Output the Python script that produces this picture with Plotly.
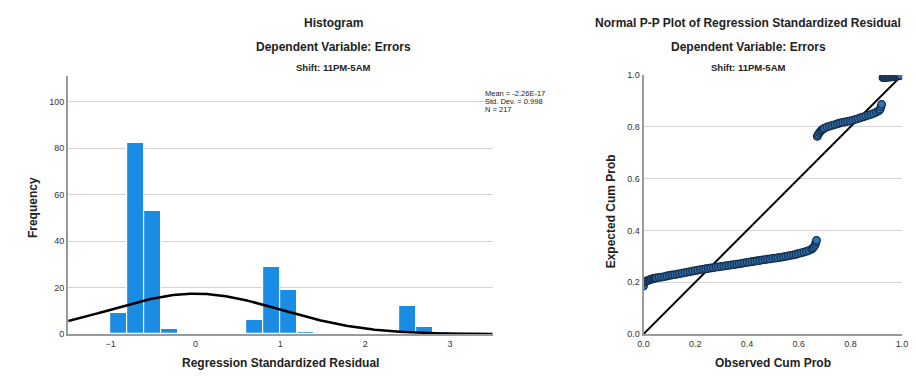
import numpy as np
import plotly.graph_objects as go

# ---------------- data ----------------
bin_left = [-1.0, -0.8, -0.6, -0.4, 0.6, 0.8, 1.0, 1.2, 2.4, 2.6, 2.8]
bin_counts = [9, 82, 53, 2, 6, 29, 19, 1, 12, 3, 1]
bin_width = 0.2
res_mean = -2.26e-17
res_sd = 0.998
res_n = 217
stats_lines = ["Mean = -2.26E-17", "Std. Dev. = 0.998", "N = 217"]

hist_xticks = [-1, 0, 1, 2, 3]
hist_yticks = [0, 20, 40, 60, 80, 100]

pp_observed = [0.000, 0.005, 0.01, 0.015, 0.02, 0.025, 0.03, 0.035, 0.04, 0.045, 0.05, 0.06, 0.07, 0.08, 0.09,
               0.10, 0.11, 0.12, 0.13, 0.14, 0.15, 0.16, 0.17, 0.18, 0.19,
               0.20, 0.21, 0.22, 0.23, 0.24, 0.25, 0.26, 0.27, 0.28, 0.29,
               0.30, 0.31, 0.32, 0.33, 0.34, 0.35, 0.36, 0.37, 0.38, 0.39,
               0.40, 0.41, 0.42, 0.43, 0.44, 0.45, 0.46, 0.47, 0.48, 0.49,
               0.50, 0.51, 0.52, 0.53, 0.54, 0.55, 0.56, 0.57, 0.58, 0.59,
               0.60, 0.61, 0.62, 0.63, 0.64, 0.65, 0.655, 0.66, 0.664, 0.667, 0.669,
               0.672, 0.675, 0.68, 0.685, 0.69, 0.695, 0.70, 0.71, 0.72, 0.73, 0.74, 0.75,
               0.76, 0.77, 0.78, 0.79, 0.80, 0.81, 0.82, 0.83, 0.84, 0.85,
               0.86, 0.87, 0.88, 0.89, 0.90, 0.91, 0.915, 0.918, 0.921,
               0.926, 0.93, 0.935, 0.94, 0.945, 0.95, 0.955, 0.96, 0.965, 0.97, 0.975, 0.98, 0.985, 0.99, 0.995]
pp_expected = [0.185, 0.200, 0.204, 0.206, 0.208, 0.210, 0.212, 0.213, 0.215, 0.216, 0.217, 0.219, 0.220, 0.222, 0.224,
               0.226, 0.228, 0.229, 0.231, 0.233, 0.235, 0.237, 0.239, 0.241, 0.243,
               0.245, 0.247, 0.249, 0.250, 0.252, 0.253, 0.255, 0.256, 0.258, 0.259,
               0.261, 0.262, 0.264, 0.265, 0.267, 0.268, 0.270, 0.271, 0.273, 0.275,
               0.277, 0.278, 0.280, 0.281, 0.283, 0.284, 0.286, 0.287, 0.289, 0.290,
               0.292, 0.293, 0.295, 0.296, 0.298, 0.300, 0.302, 0.304, 0.306, 0.308,
               0.311, 0.313, 0.316, 0.319, 0.323, 0.328, 0.332, 0.338, 0.346, 0.355, 0.362,
               0.763, 0.770, 0.778, 0.784, 0.788, 0.792, 0.795, 0.800, 0.803, 0.806, 0.809, 0.812,
               0.815, 0.817, 0.819, 0.821, 0.823, 0.826, 0.829, 0.832, 0.836, 0.839,
               0.842, 0.845, 0.848, 0.852, 0.857, 0.862, 0.868, 0.878, 0.887,
               0.990, 0.990, 0.991, 0.991, 0.992, 0.992, 0.993, 0.993, 0.994, 0.994, 0.995, 0.996, 0.997, 0.998, 0.999]

pp_ticks = [0.0, 0.2, 0.4, 0.6, 0.8, 1.0]
diag = [0.0, 1.0]

# ---------------- figure ----------------
W, H = 916, 376
FONT = "Liberation Sans, Arial, sans-serif"

fig = go.Figure()

bar_centers = [b + bin_width / 2 for b in bin_left]
fig.add_trace(go.Bar(
    x=bar_centers, y=bin_counts, width=bin_width,
    marker=dict(color="#1a8ce3", line=dict(color="white", width=1.2)),
    xaxis="x", yaxis="y", showlegend=False, hoverinfo="x+y"))

xs = np.linspace(-1.5, 3.5, 300)
curve = res_n * bin_width * np.exp(-0.5 * ((xs - res_mean) / res_sd) ** 2) / (res_sd * np.sqrt(2 * np.pi))
fig.add_trace(go.Scatter(x=xs, y=curve, mode="lines",
                         line=dict(color="black", width=2.5),
                         xaxis="x", yaxis="y", showlegend=False, hoverinfo="skip"))

fig.add_trace(go.Scatter(x=diag, y=diag, mode="lines",
                         line=dict(color="black", width=2),
                         xaxis="x2", yaxis="y2", showlegend=False, hoverinfo="skip"))
fig.add_trace(go.Scatter(x=pp_observed, y=pp_expected, mode="markers",
                         marker=dict(size=7.5, color="#2f74b5",
                                     line=dict(color="#172f4c", width=1.3)),
                         xaxis="x2", yaxis="y2", showlegend=False))

def px_x(p):
    return p / W

def px_y(p):
    return 1 - p / H

tickfont = dict(family=FONT, size=9, color="#333333")
axis_common = dict(showline=True, linecolor="#9a9a9a", linewidth=2, ticks="",
                   tickfont=tickfont, zeroline=False)

fig.update_layout(
    width=W, height=H,
    margin=dict(l=0, r=0, t=0, b=0),
    paper_bgcolor="white", plot_bgcolor="white",
    bargap=0,
    font=dict(family=FONT, color="#222222"),
    xaxis=dict(domain=[px_x(63), px_x(493)], range=[-1.5, 3.5],
               tickvals=hist_xticks, showgrid=False, anchor="y", **axis_common),
    yaxis=dict(domain=[px_y(338), px_y(73)], range=[0, 111],
               tickvals=hist_yticks, showgrid=True, gridcolor="#d4d4d4", gridwidth=1.2,
               anchor="x", **axis_common),
    xaxis2=dict(domain=[px_x(646), px_x(908)], range=[0, 1],
                tickvals=pp_ticks, tickformat=".1f", showgrid=False, anchor="y2",
                **axis_common),
    yaxis2=dict(domain=[px_y(338), px_y(72)], range=[0, 1],
                tickvals=pp_ticks, tickformat=".1f", showgrid=False, anchor="x2",
                minor=dict(tickvals=[0.2, 0.4, 0.6, 0.8], showgrid=True,
                           gridcolor="#d4d4d4", gridwidth=1.2, ticks=""),
                **axis_common),
)

def ann(text, x, y, size, bold=True, angle=0, xanchor="center", yanchor="middle", align="center"):
    t = f"<b>{text}</b>" if bold else text
    fig.add_annotation(text=t, x=px_x(x), y=px_y(y), xref="paper", yref="paper",
                       showarrow=False, textangle=angle, xanchor=xanchor, yanchor=yanchor,
                       align=align, font=dict(family=FONT, size=size, color="#222222"))

# histogram titles
ann("Histogram", 332, 19, 12)
ann("Dependent Variable: Errors", 332, 43, 12)
ann("Shift: 11PM-5AM", 332, 64, 9.5)
ann("Frequency", 28, 208, 12, angle=-90)
ann("Regression Standardized Residual", 278, 368, 12)
for i, line in enumerate(stats_lines):
    ann(line, 483, 91 + 8 * i, 7.5, bold=False, xanchor="left", yanchor="middle", align="left")

# P-P titles
ann("Normal P-P Plot of Regression Standardized Residual", 752, 19, 12)
ann("Dependent Variable: Errors", 752, 43, 12)
ann("Shift: 11PM-5AM", 752, 64, 9.5)
ann("Expected Cum Prob", 613, 212, 12, angle=-90)
ann("Observed Cum Prob", 777, 368, 12)

fig.write_html("out.html")
